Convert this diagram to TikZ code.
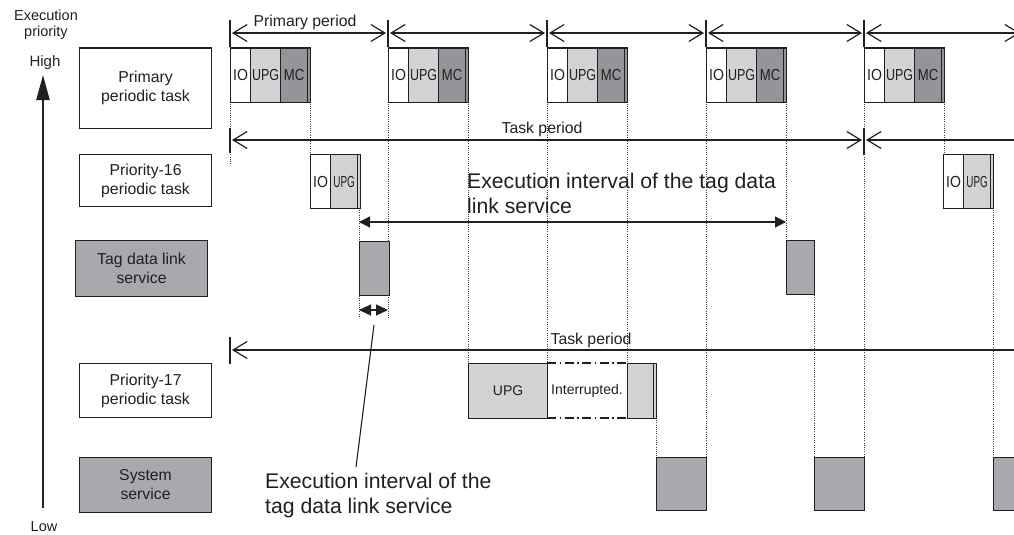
\documentclass[tikz,border=0pt]{standalone}
\usepackage{fontspec}
\setmainfont{Liberation Sans}
\usepackage{graphicx}
\usetikzlibrary{arrows.meta}
\definecolor{lg}{HTML}{D1D3D4}
\definecolor{dg}{HTML}{939598}
\definecolor{mg}{HTML}{A7A9AC}
\definecolor{ink}{HTML}{231F20}
\newcommand\nrw[2]{\scalebox{#1}[1]{#2}}
\newcommand\primblk[2]{%
  \node[blk,fill=white,minimum width=20,minimum height=54] (#1io) at (#2,47.5) {\nrw{0.88}{IO}};
  \node[blk,fill=lg,minimum width=30,minimum height=54] (#1upg) at (#2+20,47.5) {\nrw{0.78}{UPG}};
  \node[blk,fill=dg,minimum width=27,minimum height=54] (#1mc) at (#2+50,47.5) {\nrw{0.82}{MC}};
  \node[blk,fill=dg,minimum width=3,minimum height=54] (#1st) at (#2+77,47.5) {};
}
\newcommand\sixblk[2]{%
  \node[blk,fill=white,minimum width=20,minimum height=54] (#1io) at (#2,154) {\nrw{0.88}{IO}};
  \node[blk,fill=lg,minimum width=27,minimum height=54] (#1upg) at (#2+20,154) {\nrw{0.62}{UPG}};
  \node[blk,fill=lg,minimum width=3,minimum height=54] (#1st) at (#2+47,154) {};
}
\begin{document}
\begin{tikzpicture}[x=1pt,y=-1pt,
  blk/.style={draw=ink,line width=1.2pt,inner sep=0pt,anchor=north west,font=\fontsize{16}{16}\selectfont,text=ink},
  lab/.style={draw=ink,line width=1.1pt,inner sep=0pt,anchor=north west,align=center,font=\fontsize{15.8}{19}\selectfont,text=ink,minimum width=132},
  dotl/.style={draw=ink!85,line width=0.75pt,dash pattern=on 0.9pt off 1.3pt},
  per/.style={draw=ink,line width=1.2pt},
  tick/.style={draw=ink,line width=1.2pt},
  pbarb/.tip={Straight Barb[length=14pt,width=17pt]},
  ptri/.tip={Triangle[length=11pt,width=11pt]},
  txt/.style={text=ink,inner sep=0pt},
]
\useasboundingbox (0,0) rectangle (1014,535);
\clip (0,0) rectangle (1014,535);

% ---- left column
\node[txt,align=center,font=\fontsize{14.5}{16}\selectfont] (ep) at (46,25) {Execution\\priority};
\node[txt,font=\fontsize{15}{15}\selectfont] (hi) at (45,63) {High};
\node[txt,font=\fontsize{14.5}{15}\selectfont] (lo) at (44,527) {Low};
\coordinate (axb) at (43,508);
\coordinate (axt) at (43,75);
\draw[ink,line width=2.3pt,-{Triangle[length=25pt,width=13pt]}] (axb) -- (axt);

\node[lab,minimum height=80] (pp) at (79,47.5) {Primary\\periodic task};
\node[lab,minimum height=52] (p16) at (79,154) {Priority-16\\periodic task};
\node[lab,fill=mg,minimum height=56] (tag) at (75,240) {Tag data link\\service};
\node[lab,minimum height=54] (p17) at (79,363) {Priority-17\\periodic task};
\node[lab,fill=mg,minimum height=55] (sys) at (79,457) {System\\service};

% ---- dotted guide lines
\foreach \x/\ya/\yb in {230/101.5/165, 310/101.5/154, 359/208/318, 388/101.5/318,
  468/101.5/363, 547/101.5/363, 627/101.5/363, 656/418/457, 706/101.5/457,
  786/101.5/240, 814/295/457, 864/101.5/457, 944/101.5/154, 993/208/457}
  \draw[dotl] (\x,\ya) -- (\x,\yb);

% ---- primary period ticks and arrows
\foreach \i/\x in {0/230,1/388,2/547,3/706,4/864,5/1022} {
  \coordinate (pt\i) at (\x,20);
  \coordinate (pa\i) at (\x,33);
  \draw[tick] (pt\i) -- (\x,47.5);
}
\foreach \i/\j in {0/1,1/2,2/3,3/4,4/5}
  \draw[per,pbarb-pbarb,shorten <=2pt,shorten >=2pt] (pa\i) -- (pa\j);
\node[txt,font=\fontsize{15.8}{15}\selectfont] (ppl) at (305,22.5) {Primary period};

% ---- primary blocks
\primblk{a}{230}
\primblk{b}{388}
\primblk{c}{547}
\primblk{d}{706}
\primblk{e}{864}

% ---- task period (priority 16)
\coordinate (tp0) at (230,140);
\coordinate (tp1) at (864,140);
\coordinate (tp2) at (1120,140);
\draw[tick] (230,128) -- (230,153);
\draw[tick] (864,128) -- (864,155);
\draw[per,pbarb-pbarb,shorten <=2pt,shorten >=2pt] (tp0) -- (tp1);
\draw[per,pbarb-,shorten <=2pt] (tp1) -- (tp2);
\node[txt,font=\fontsize{15.8}{15}\selectfont] (tpl) at (542,129) {Task period};

% ---- priority-16 blocks
\sixblk{f}{310}
\sixblk{g}{943}

% ---- tag data link service
\node[blk,fill=mg,minimum width=30,minimum height=54] (tg1) at (359,241) {};
\node[blk,fill=mg,minimum width=28,minimum height=54] (tg2) at (786,240) {};
\coordinate (ei0) at (359,222);
\coordinate (ei1) at (786,222);
\draw[per,ptri-ptri] (ei0) -- (ei1);
\node[txt,anchor=west,align=left,font=\fontsize{21.2}{25}\selectfont] (eil) at (467,193.5) {Execution interval of the tag data\\link service};
\coordinate (si0) at (359,310);
\coordinate (si1) at (388,310);
\draw[per,{Triangle[length=12pt,width=11pt]}-{Triangle[length=12pt,width=11pt]}] (si0) -- (si1);
\coordinate (ld0) at (374,325);
\coordinate (ld1) at (356,467);
\draw[ink,line width=1.1pt] (ld0) -- (ld1);
\node[txt,anchor=west,align=left,font=\fontsize{21.2}{25}\selectfont] (eil2) at (265,495.5) {Execution interval of the\\tag data link service};

% ---- task period (priority 17)
\coordinate (tq0) at (230,350);
\coordinate (tq1) at (1120,350);
\draw[tick] (230,337) -- (230,364);
\draw[per,pbarb-,shorten <=2pt] (tq0) -- (tq1);
\node[txt,font=\fontsize{15.8}{15}\selectfont] (tql) at (591,340) {Task period};

% ---- priority-17 blocks
\node[blk,fill=lg,minimum width=79,minimum height=55,font=\fontsize{14}{14}\selectfont] (h1) at (468,363) {UPG};
\coordinate (ir0) at (547,363);
\coordinate (ir1) at (627,363);
\coordinate (ir2) at (547,418);
\coordinate (ir3) at (627,418);
\draw[ink,line width=1.2pt,dash pattern=on 9pt off 3.5pt on 1.5pt off 3.5pt] (ir0) -- (ir1);
\draw[ink,line width=1.2pt,dash pattern=on 9pt off 3.5pt on 1.5pt off 3.5pt] (ir2) -- (ir3);
\node[txt,font=\fontsize{14}{14}\selectfont] (irl) at (587,390.5) {Interrupted.};
\node[blk,fill=lg,minimum width=26,minimum height=55] (h2) at (627,363) {};
\node[blk,fill=lg,minimum width=3,minimum height=55] (h3) at (653,363) {};

% ---- system service blocks
\node[blk,fill=mg,minimum width=50,minimum height=53] (s1) at (656,457) {};
\node[blk,fill=mg,minimum width=50,minimum height=53] (s2) at (814,457) {};
\node[blk,fill=mg,minimum width=50,minimum height=53] (s3) at (993,457) {};
\end{tikzpicture}
\end{document}
